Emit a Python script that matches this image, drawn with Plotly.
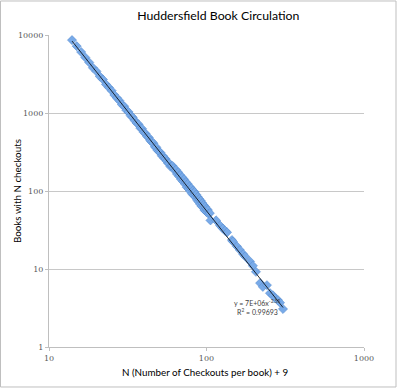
import numpy as np
import plotly.graph_objects as go

# ---- data (x = N + 9, y = books with N checkouts) ----
x_vals = [14, 15, 16, 17, 18, 19, 20, 21, 22, 23, 24, 25, 26, 27, 28, 29, 30,
          31, 32, 33, 34, 35, 36, 37, 38, 39, 40, 41, 42, 43, 44, 45, 46, 47,
          48, 49, 50, 51, 52, 53, 54, 55, 56, 57, 58, 59, 60,
          61, 62, 63, 64, 65, 66, 67, 68, 69, 70, 71, 72, 73, 74, 75, 76, 77,
          78, 79, 80, 81, 82, 83, 84, 85, 86, 87, 88, 89, 90, 91, 92, 93, 94,
          95, 96, 97, 98, 99, 100, 101, 102, 103, 105, 106,
          115, 122, 127, 131, 135, 145, 147, 156, 163, 171, 176, 189, 197, 206,
          219, 228, 242, 253, 264, 272, 284, 293, 306]
y_vals = [8600, 7200, 6050, 5150, 4450, 3800, 3420, 2950, 2690, 2330, 2120,
          1930, 1700, 1560, 1440, 1285, 1220, 1085, 1030, 925, 880, 800, 745,
          715, 640, 628, 565, 544, 500, 485, 442, 426, 410, 368, 363, 331, 320,
          310, 283, 280, 262, 257, 241, 227, 225, 206, 209,
          209, 196, 182, 187, 165, 174, 154, 160, 141, 150, 132, 141, 123, 130,
          112, 123, 106, 114, 99, 108, 92, 101, 88, 97, 84, 90, 77, 84, 73,
          79, 68, 75, 64, 70, 62, 66, 57, 63, 55, 59, 53, 57, 51, 52, 42,
          42, 36, 33, 31, 29.5, 23.5, 22.5, 19.5, 17.5, 15.5, 14.5, 12.5, 11,
          9.2, 6.6, 5.9, 6.2, 4.9, 4.6, 4.25, 4.0, 3.7, 3.07]

# power trendline parameters (y = A * x^B)
fit_A = 7.0e6
fit_B = -2.55
eq_text = "y = 7E+06x<sup>-2.55</sup>"
r2_text = "R<sup>2</sup> = 0.99693"

y_tickvals = [1, 10, 100, 1000, 10000]
y_ticktext = ["1", "10", "100", "1000", "10000"]
x_tickvals = [10, 100, 1000]
x_ticktext = ["10", "100", "1000"]

trend_x = np.geomspace(min(x_vals), max(x_vals), 50)
trend_y = fit_A * trend_x ** fit_B

fig = go.Figure()
fig.add_trace(go.Scatter(
    x=x_vals, y=y_vals, mode="markers",
    marker=dict(symbol="diamond", size=7, color="#78aae8",
                line=dict(color="#5a8fd2", width=0.6)),
    showlegend=False, hoverinfo="x+y"))
fig.add_trace(go.Scatter(
    x=trend_x, y=trend_y, mode="lines",
    line=dict(color="#000000", width=0.8),
    showlegend=False, hoverinfo="skip"))

font_fam = "Lato, Liberation Sans, Arial, sans-serif"
tick_font = dict(size=8, color="#595959", family="DejaVu Serif")

fig.update_layout(
    width=400, height=389,
    margin=dict(l=49, r=36, t=35, b=42, autoexpand=False),
    paper_bgcolor="white", plot_bgcolor="white",
    font=dict(family=font_fam, color="#000000"),
    title=dict(text="Huddersfield Book Circulation", x=0.5375, xref="paper",
               xanchor="center", y=0.959, yanchor="middle",
               font=dict(size=12.3, color="#000000", family=font_fam)),
    xaxis=dict(type="log", range=[1, 3], showgrid=False, zeroline=False,
               automargin=False,
               showline=True, linecolor="#bfbfbf", linewidth=1,
               ticks="outside", ticklen=3, tickcolor="#bfbfbf",
               tickvals=x_tickvals, ticktext=x_ticktext, tickfont=tick_font),
    yaxis=dict(type="log", range=[0, 4], showgrid=True, gridcolor="#c8c8c8",
               gridwidth=1, zeroline=False, automargin=False,
               showline=True, linecolor="#bfbfbf", linewidth=1,
               ticks="outside", ticklen=3, tickcolor="#bfbfbf",
               tickvals=y_tickvals, ticktext=y_ticktext, tickfont=tick_font),
    shapes=[dict(type="rect", xref="paper", yref="paper",
                 x0=-0.1540, x1=1.1016, y0=-0.1282, y1=1.109,
                 line=dict(color="#bfbfbf", width=1), layer="below")],
    annotations=[
        dict(text="N (Number of Checkouts per book) + 9", xref="paper",
             yref="paper", x=0.4984, y=-0.080, xanchor="center",
             yanchor="middle", showarrow=False,
             font=dict(size=9.8, color="#000000")),
        dict(text="Books with N checkouts", xref="paper", yref="paper",
             x=-0.1016, y=0.5, xanchor="center", yanchor="middle",
             textangle=-90, showarrow=False,
             font=dict(size=9.8, color="#000000")),
        dict(text=eq_text, xref="paper", yref="paper", x=0.581, y=0.144,
             xanchor="left", yanchor="middle", showarrow=False,
             font=dict(size=7, color="#404040")),
        dict(text=r2_text, xref="paper", yref="paper", x=0.590, y=0.115,
             xanchor="left", yanchor="middle", showarrow=False,
             font=dict(size=7, color="#404040")),
    ],
)

fig.write_html("out.html", config={"displayModeBar": False},
               post_script="document.body.style.margin='0px';")
